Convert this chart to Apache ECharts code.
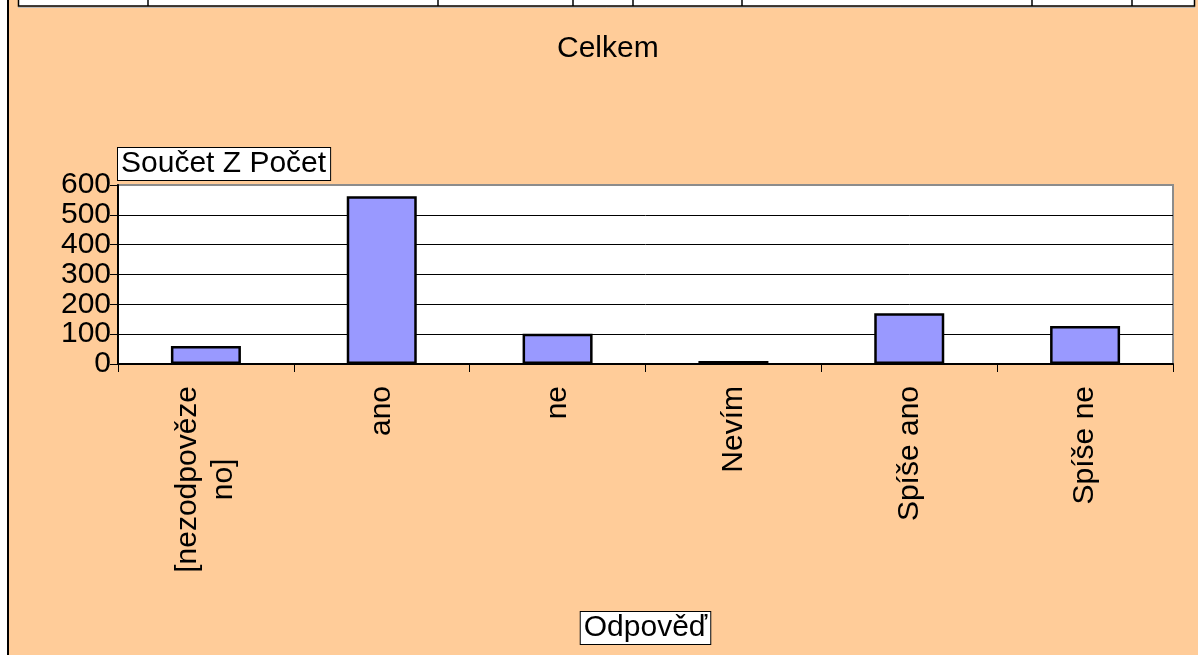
<!DOCTYPE html>
<html>
<head>
<meta charset="utf-8">
<script src="https://cdn.jsdelivr.net/npm/echarts@6/dist/echarts.min.js"></script>
<style>
html,body{margin:0;padding:0;background:#fff;}
#c{width:1198px;height:655px;}
</style>
</head>
<body>
<div id="c"></div>
<script>
const categories = ['[nezodpovězeno]', 'ano', 'ne', 'Nevím', 'Spíše ano', 'Spíše ne'];
const counts = [60, 562, 101, 10, 170, 127];
const yTicks = [0, 100, 200, 300, 400, 500, 600];
const chartTitle = 'Celkem';
const yName = 'Součet Z Počet';
const xName = 'Odpověď';

const FONT = '"Liberation Sans", Arial, sans-serif';
const FS = 30;
const chart = echarts.init(document.getElementById('c'));

function wrapLabel(s) {
  const max = 12;
  const parts = [];
  for (let i = 0; i < s.length; i += max) parts.push(s.slice(i, i + max));
  return parts.map(p => '{a|' + p + '}').join('\n');
}

const stripLines = [148, 438, 573, 633, 742, 1032, 1132];

chart.setOption({
  backgroundColor: '#FFCC99',
  animation: false,
  title: {
    text: chartTitle,
    left: 552,
    top: 29,
    textStyle: { fontFamily: FONT, fontSize: FS, fontWeight: 'normal', color: '#000' }
  },
  grid: {
    left: 118, right: 25, top: 185, bottom: 291,
    show: true, backgroundColor: '#fff', borderColor: '#8c8c8c', borderWidth: 2
  },
  xAxis: {
    type: 'category',
    data: categories,
    name: xName,
    nameLocation: 'middle',
    nameGap: 248,
    nameTextStyle: {
      fontFamily: FONT, fontSize: FS, color: '#000', verticalAlign: 'top',
      backgroundColor: '#fff', borderColor: '#000', borderWidth: 1, padding: [1, 3, 1, 3]
    },
    axisLine: { lineStyle: { color: '#000', width: 2 } },
    axisTick: { show: true, length: 8, alignWithLabel: false, lineStyle: { color: '#000' } },
    axisLabel: {
      rotate: 90, margin: 22, interval: 0,
      fontFamily: FONT, fontSize: FS, color: '#000',
      formatter: v => wrapLabel(v),
      rich: { a: { fontFamily: FONT, fontSize: FS, color: '#000', align: 'center', lineHeight: 36 } }
    },
    splitLine: { show: false }
  },
  yAxis: {
    type: 'value',
    min: yTicks[0], max: yTicks[yTicks.length - 1], interval: 100,
    name: yName,
    nameLocation: 'end',
    nameGap: 5,
    nameTextStyle: {
      fontFamily: FONT, fontSize: FS, color: '#000', align: 'left', verticalAlign: 'bottom',
      backgroundColor: '#fff', borderColor: '#000', borderWidth: 1, padding: [1, 4, 1, 3]
    },
    axisLine: { show: true, lineStyle: { color: '#000', width: 2 } },
    axisTick: { show: true, length: 8, lineStyle: { color: '#000' } },
    axisLabel: { margin: 7, fontFamily: FONT, fontSize: FS, color: '#000' },
    splitLine: { show: true, showMaxLine: false, lineStyle: { color: '#000', width: 1 } }
  },
  series: [{
    type: 'bar',
    data: counts,
    barWidth: 70,
    itemStyle: { color: '#9999FF', borderColor: '#000', borderWidth: 2.5 }
  }],
  graphic: [
    { type: 'rect', shape: { x: 0, y: 0, width: 7, height: 655 }, style: { fill: '#fff' }, silent: true },
    { type: 'line', shape: { x1: 8, y1: 0, x2: 8, y2: 655 }, style: { stroke: '#000', lineWidth: 2 }, silent: true },
    { type: 'rect', shape: { x: 18.5, y: -2, width: 1176, height: 8 }, style: { fill: '#fff', stroke: '#000', lineWidth: 1.5 }, silent: true },
    { type: 'line', shape: { x1: 18, y1: 7.5, x2: 1195, y2: 7.5 }, style: { stroke: '#bbb', lineWidth: 1 }, silent: true }
  ].concat(stripLines.map(x => ({
    type: 'line', shape: { x1: x, y1: 0, x2: x, y2: 6 }, style: { stroke: '#000', lineWidth: 1.5 }, silent: true
  })))
});
</script>
</body>
</html>
